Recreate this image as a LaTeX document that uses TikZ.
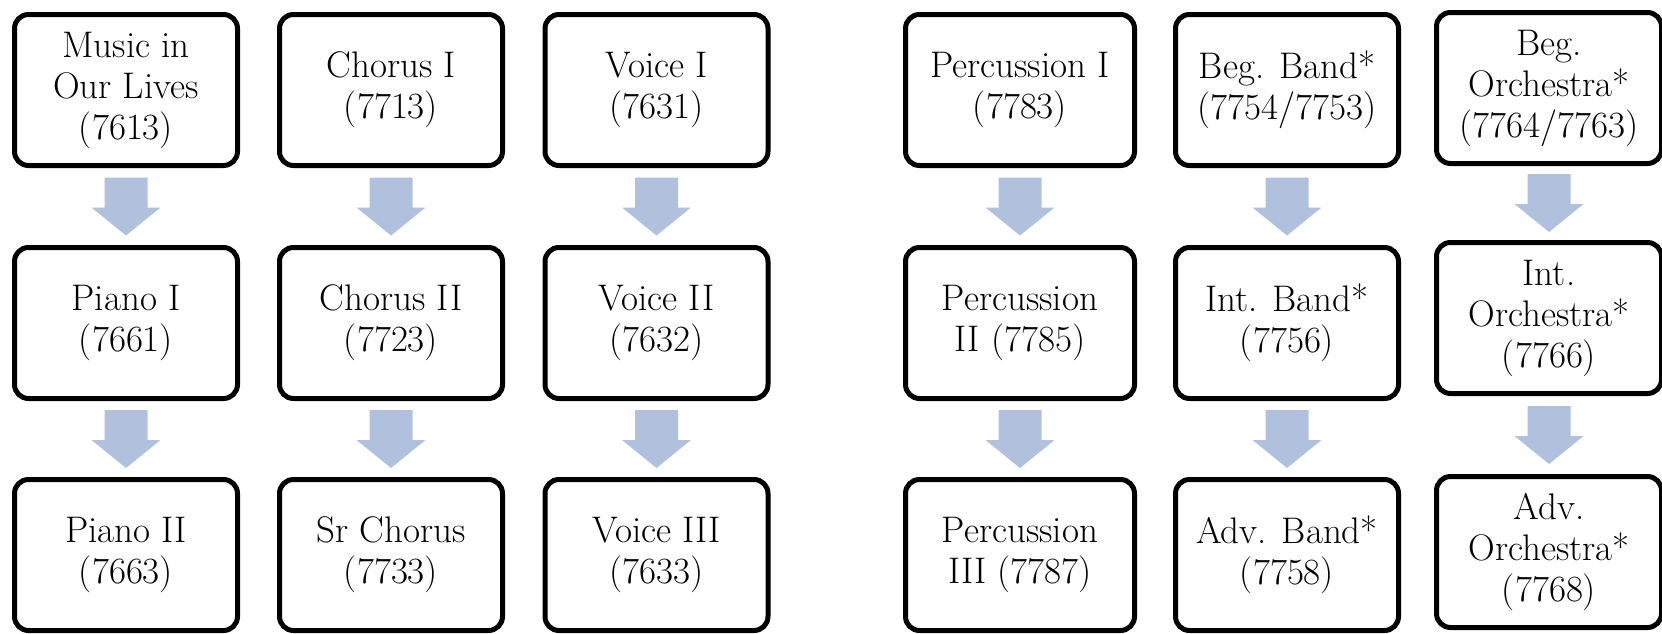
\documentclass[tikz,border=0pt]{standalone}
\usetikzlibrary{calc}
\definecolor{arrowblue}{RGB}{176,193,222}
\tikzset{
  course/.style={draw=black, line width=5pt, rounded corners=14pt,
    minimum width=223pt, minimum height=151pt, align=center,
    inner sep=0pt, fill=white, font=\fontsize{37}{41}\selectfont},
  flowfill/.style={fill=arrowblue}
}
\newcommand\flowarrow[2]{%
  \fill[flowfill] ($(#1.south)!0.5!(#2.north)+(0,-29)$) ++(-21.5,0)
    -- ++(43,0) -- ++(0,30) -- ++(13,0) -- ++(-34.5,28)
    -- ++(-34.5,-28) -- ++(13,0) -- cycle;}
\begin{document}
\begin{tikzpicture}[x=1pt,y=-1pt]
\useasboundingbox (0,0) rectangle (1662,633);
% column 1
\node[course] (a1) at (126,90)  {Music in\\Our Lives\\(7613)};
\node[course] (a2) at (126,323) {Piano I\\(7661)};
\node[course] (a3) at (126,555) {Piano II\\(7663)};
% column 2
\node[course] (b1) at (391,90)  {Chorus I\\(7713)};
\node[course] (b2) at (391,323) {Chorus II\\(7723)};
\node[course] (b3) at (391,555) {Sr Chorus\\(7733)};
% column 3
\node[course] (c1) at (656.5,90)  {Voice I\\(7631)};
\node[course] (c2) at (656.5,323) {Voice II\\(7632)};
\node[course] (c3) at (656.5,555) {Voice III\\(7633)};
% column 4
\node[course, minimum width=229pt] (d1) at (1020,90)  {Percussion I\\(7783)};
\node[course, minimum width=229pt] (d2) at (1020,323) {Percussion\\II (7785)};
\node[course, minimum width=229pt] (d3) at (1020,555) {Percussion\\III (7787)};
% column 5
\node[course] (e1) at (1287,90)  {Beg. Band*\\(7754/7753)};
\node[course] (e2) at (1287,323) {Int. Band*\\(7756)};
\node[course] (e3) at (1287,555) {Adv. Band*\\(7758)};
% column 6
\node[course, minimum width=225pt] (f1) at (1549,88)  {Beg.\\Orchestra*\\(7764/7763)};
\node[course, minimum width=225pt] (f2) at (1549,318) {Int.\\Orchestra*\\(7766)};
\node[course, minimum width=225pt] (f3) at (1549,552) {Adv.\\Orchestra*\\(7768)};
% arrows
\flowarrow{a1}{a2}\flowarrow{a2}{a3}
\flowarrow{b1}{b2}\flowarrow{b2}{b3}
\flowarrow{c1}{c2}\flowarrow{c2}{c3}
\flowarrow{d1}{d2}\flowarrow{d2}{d3}
\flowarrow{e1}{e2}\flowarrow{e2}{e3}
\flowarrow{f1}{f2}\flowarrow{f2}{f3}
\end{tikzpicture}
\end{document}
